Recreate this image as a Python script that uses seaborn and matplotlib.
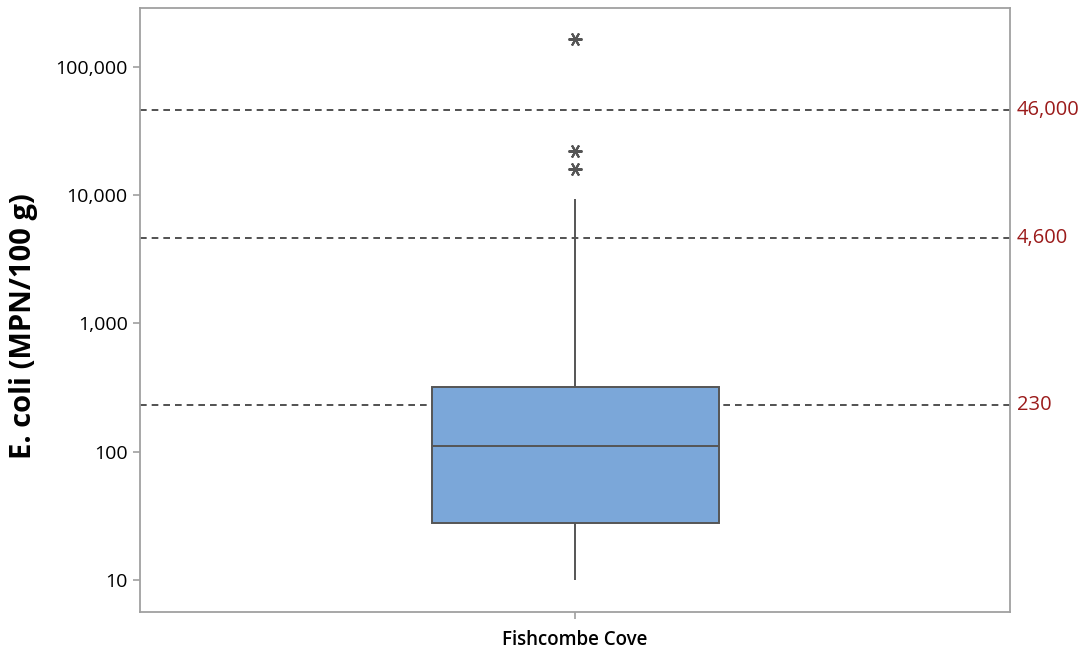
import matplotlib
matplotlib.use("Agg")
import matplotlib.pyplot as plt
import matplotlib.ticker as mticker
import matplotlib.transforms as mtransforms
import seaborn as sns
import pandas as pd

# sample results (MPN/100 g)
site = "Fishcombe Cove"
ecoli = [10, 14, 18, 23, 28, 40, 60, 85, 110, 150, 200, 260, 320,
         9300, 16000, 22000, 165000]
ref_levels = [230, 4600, 46000]
ref_labels = ["230", "4,600", "46,000"]
yticks = [10, 100, 1000, 10000, 100000]

df = pd.DataFrame({"Site": [site] * len(ecoli), "E. coli": ecoli})

sns.set_style("white")
plt.rcParams["font.family"] = ["Open Sans", "DejaVu Sans"]

fig = plt.figure(figsize=(10.86, 6.5), dpi=100)
ax = fig.add_axes([0.129, 0.0585, 0.801, 0.9295])

line_col = "#555555"
sns.boxplot(data=df, x="Site", y="E. coli", ax=ax, log_scale=True, width=0.33,
            color="#7BA7D9", saturation=1, linecolor=line_col, linewidth=1.4,
            whis=1.5, capwidths=0,
            flierprops=dict(marker=(6, 2, 90), markersize=10,
                            markeredgecolor=line_col, markeredgewidth=1.5),
            zorder=3)

ax.set_ylim(5.62, 288000)
ax.set_xlim(-0.5, 0.5)

trans = mtransforms.blended_transform_factory(ax.transAxes, ax.transData)
for lvl, lab in zip(ref_levels, ref_labels):
    ax.axhline(lvl, color="#333333", linestyle=(0, (4, 3)), linewidth=1.2, zorder=2)
    ax.text(1.008, lvl, lab, transform=trans, color="#9B1B1B", fontsize=14.5,
            va="center", ha="left", clip_on=False)

ax.yaxis.set_major_locator(mticker.FixedLocator(yticks))
ax.yaxis.set_minor_locator(mticker.NullLocator())
ax.yaxis.set_major_formatter(mticker.FuncFormatter(lambda v, p: f"{v:,.0f}"))

for s in ax.spines.values():
    s.set_color("#A0A0A0")
    s.set_linewidth(1.3)

ax.tick_params(axis="y", which="major", direction="out", length=5, width=1.2,
               color="#A0A0A0", labelsize=14, labelcolor="black", pad=4, left=True)
ax.tick_params(axis="x", direction="out", length=5, width=1.2, color="#A0A0A0",
               labelsize=13.5, labelcolor="black", pad=8, bottom=True)
for t in ax.get_xticklabels():
    t.set_fontweight("semibold")

ax.set_xlabel("")
ax.set_ylabel("E. coli (MPN/100 g)", fontsize=21, fontweight="bold", color="black")
ax.yaxis.set_label_coords(-0.117, 0.4735)

fig.savefig("out.png", dpi=100)
